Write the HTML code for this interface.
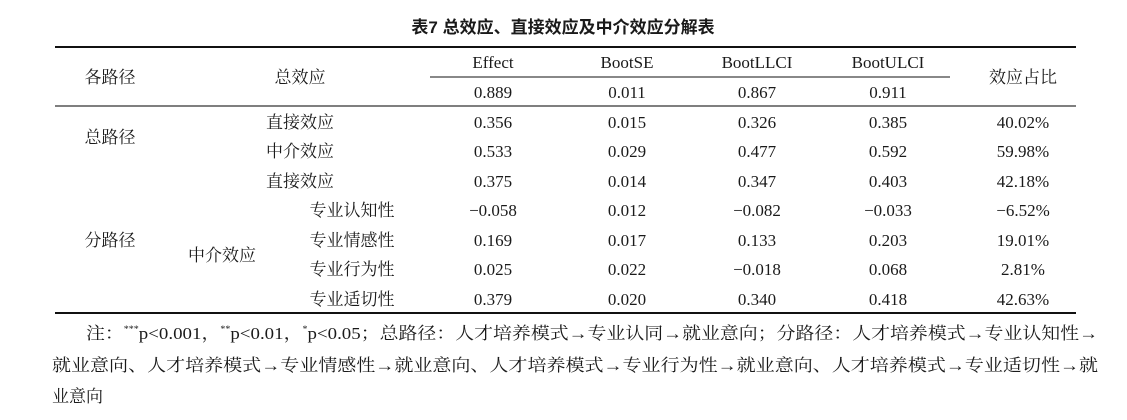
<!DOCTYPE html>
<html><head><meta charset="utf-8"><style>
html,body{margin:0;padding:0;background:#fff;width:1127px;height:420px;overflow:hidden}
svg{display:block}
text{font-family:"Liberation Serif","Noto Serif CJK SC",serif;font-size:17px;fill:#1a1a1a}
.t{font-family:"Liberation Sans","Noto Sans CJK SC",sans-serif;font-weight:bold;font-size:17px}
</style></head><body>
<svg width="1127" height="420" xmlns="http://www.w3.org/2000/svg">
<text class="t" x="563" y="33" text-anchor="middle">表7  总效应、直接效应及中介效应分解表</text>
<line x1="55" y1="47" x2="1076" y2="47" stroke="#111" stroke-width="2"/>
<line x1="430" y1="77" x2="950" y2="77" stroke="#111" stroke-width="1"/>
<line x1="55" y1="106" x2="1076" y2="106" stroke="#555" stroke-width="1.5"/>
<line x1="55" y1="313" x2="1076" y2="313" stroke="#111" stroke-width="2"/>
<g text-anchor="middle">
<text x="110" y="83">各路径</text><text x="300" y="83">总效应</text>
<text x="493" y="68">Effect</text><text x="627" y="68">BootSE</text><text x="757" y="68">BootLLCI</text><text x="888" y="68">BootULCI</text>
<text x="1023" y="83">效应占比</text>
<text x="493" y="98">0.889</text><text x="627" y="98">0.011</text><text x="757" y="98">0.867</text><text x="888" y="98">0.911</text>
<text x="110" y="143">总路径</text><text x="110" y="246">分路径</text><text x="222" y="261">中介效应</text>
<text x="300" y="128">直接效应</text><text x="300" y="157">中介效应</text><text x="300" y="187">直接效应</text>
<text x="352" y="216">专业认知性</text><text x="352" y="246">专业情感性</text><text x="352" y="275">专业行为性</text><text x="352" y="305">专业适切性</text>
<text x="493" y="128">0.356</text><text x="627" y="128">0.015</text><text x="757" y="128">0.326</text><text x="888" y="128">0.385</text><text x="1023" y="128">40.02%</text>
<text x="493" y="157">0.533</text><text x="627" y="157">0.029</text><text x="757" y="157">0.477</text><text x="888" y="157">0.592</text><text x="1023" y="157">59.98%</text>
<text x="493" y="187">0.375</text><text x="627" y="187">0.014</text><text x="757" y="187">0.347</text><text x="888" y="187">0.403</text><text x="1023" y="187">42.18%</text>
<text x="493" y="216">−0.058</text><text x="627" y="216">0.012</text><text x="757" y="216">−0.082</text><text x="888" y="216">−0.033</text><text x="1023" y="216">−6.52%</text>
<text x="493" y="246">0.169</text><text x="627" y="246">0.017</text><text x="757" y="246">0.133</text><text x="888" y="246">0.203</text><text x="1023" y="246">19.01%</text>
<text x="493" y="275">0.025</text><text x="627" y="275">0.022</text><text x="757" y="275">−0.018</text><text x="888" y="275">0.068</text><text x="1023" y="275">2.81%</text>
<text x="493" y="305">0.379</text><text x="627" y="305">0.020</text><text x="757" y="305">0.340</text><text x="888" y="305">0.418</text><text x="1023" y="305">42.63%</text>
</g>
<text x="86" y="339" textLength="1012" lengthAdjust="spacingAndGlyphs">注：<tspan font-size="9" dy="-7">***</tspan><tspan dy="7">p&lt;0.001，</tspan><tspan font-size="9" dy="-7">**</tspan><tspan dy="7">p&lt;0.01，</tspan><tspan font-size="9" dy="-7">*</tspan><tspan dy="7">p&lt;0.05；总路径：人才培养模式→专业认同→就业意向；分路径：人才培养模式→专业认知性→</tspan></text>
<text x="52" y="371" textLength="1046" lengthAdjust="spacingAndGlyphs">就业意向、人才培养模式→专业情感性→就业意向、人才培养模式→专业行为性→就业意向、人才培养模式→专业适切性→就</text>
<text x="52" y="402">业意向</text>
</svg>
</body></html>
